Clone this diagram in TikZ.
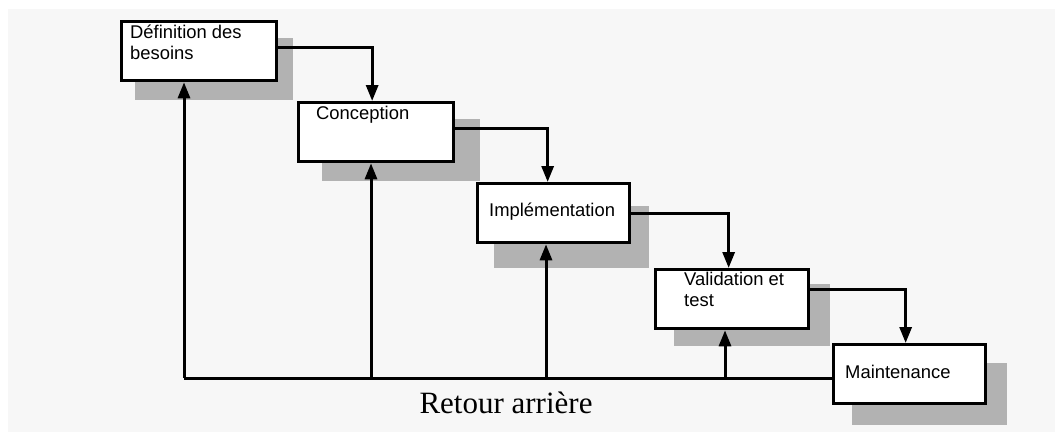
\documentclass[tikz,border=0pt]{standalone}
\usepackage{fontspec}
\setmainfont{Liberation Serif}
\setsansfont{Liberation Sans}
\usepackage{tikz}
\usetikzlibrary{arrows.meta, positioning, backgrounds}
\definecolor{fond}{HTML}{F7F7F7}
\definecolor{ombre}{HTML}{B2B2B2}
\tikzset{
  >={Triangle[length=16pt,width=12pt]},
  phase/.style={draw, line width=3.3pt, fill=white, anchor=north west,
    inner sep=0pt, minimum width=#1, minimum height=59pt},
  etiquette/.style={anchor=base west, inner sep=0pt, align=left,
    font=\sffamily\fontsize{18.4}{21}\selectfont},
  fleche/.style={->, line width=3pt},
  ligne/.style={line width=3pt}
}

\begin{document}
\begin{tikzpicture}[x=1pt, y=-1pt]
    \useasboundingbox (0,0) rectangle (1055,432);

    % les phases
    \node[phase=155pt] (def) at (120,20) {};
    \node[phase=155pt] (conc) at (297,101) {};
    \node[phase=152pt] (impl) at (476,182) {};
    \node[phase=153pt] (valid) at (654,268) {};
    \node[phase=152pt] (maint) at (832,343) {};

    \node[etiquette] (def-txt) at (130,59) {D\'efinition des\\besoins};
    \node[etiquette] (conc-txt) at (316,119) {Conception};
    \node[etiquette] (impl-txt) at (489,216) {Impl\'ementation};
    \node[etiquette] (valid-txt) at (684,306) {Validation et\\test};
    \node[etiquette] (maint-txt) at (845,378) {Maintenance};

    \node[anchor=base, font=\fontsize{31}{36}\selectfont] (retour) at (506,413) {Retour arri\`ere};

    \begin{scope}[on background layer]
      \fill[fond] (8,9) rectangle (1055,432);
      \foreach \n/\dx/\dy in {def/15/18, conc/25/18, impl/18/24, valid/20/16, maint/20/20}
        \fill[ombre] ([xshift=\dx pt, yshift=-\dy pt]\n.north west)
          rectangle ([xshift=\dx pt, yshift=-\dy pt]\n.south east);
    \end{scope}

    % cascade
    \draw[fleche] ([yshift=4pt]def.east) -| ([xshift=-4pt]conc.north);
    \draw[fleche] ([yshift=3.5pt]conc.east) -| ([xshift=-6pt]impl.north);
    \draw[fleche] ([yshift=0pt]impl.east) -| ([xshift=-3.5pt]valid.north);
    \draw[fleche] ([yshift=9.5pt]valid.east) -| ([xshift=-4pt]maint.north);

    % retour arriere
    \coordinate (r1) at (184,378);
    \coordinate (r2) at (371,378);
    \coordinate (r3) at (546,378);
    \coordinate (r4) at (725,378);
    \draw[ligne] (r1) -- (r1 -| maint.west);
    \draw[fleche] (r1) -- (r1 |- def.south);
    \draw[fleche] (r2) -- (r2 |- conc.south);
    \draw[fleche] (r3) -- (r3 |- impl.south);
    \draw[fleche] (r4) -- (r4 |- valid.south);
\end{tikzpicture}
\end{document}
